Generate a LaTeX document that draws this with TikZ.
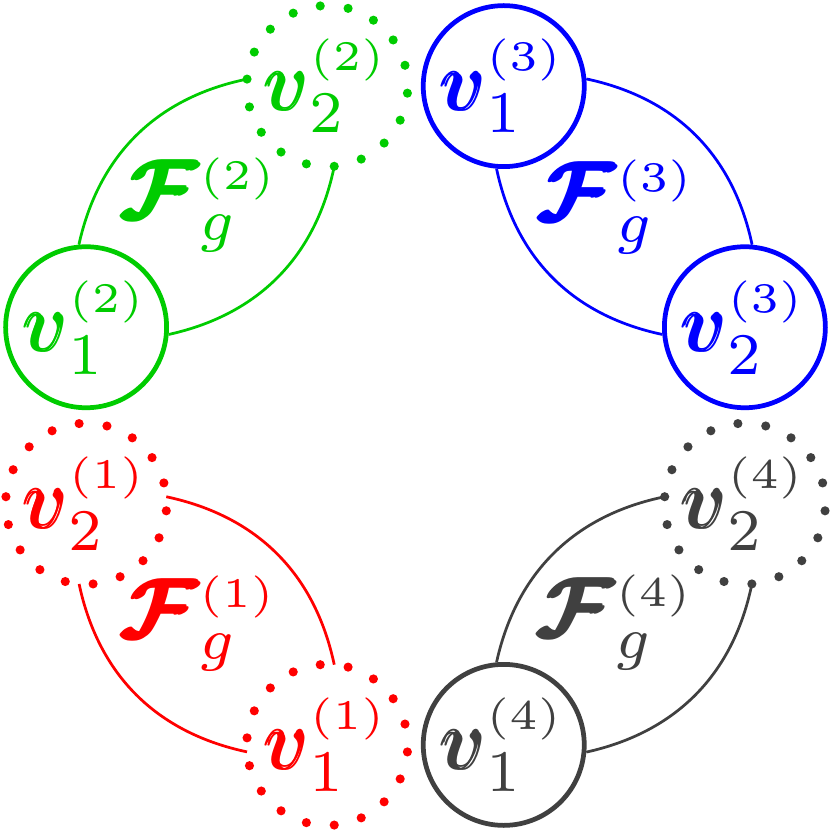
\documentclass[tikz,border=0pt]{standalone}
\usepackage{amsmath,amssymb}
\usepackage{graphicx}
\definecolor{vgreen}{RGB}{0,204,0}
\definecolor{vgray}{RGB}{64,64,64}

\begin{document}
\begin{tikzpicture}[
    solidnode/.style={circle, draw=#1, text=#1, line width=1.35pt, minimum size=1.61cm, inner sep=0pt},
    dotnode/.style={circle, draw=#1, text=#1, line width=2.6pt, dash pattern=on 0pt off 7.995pt, dash phase=2pt, line cap=round, minimum size=1.61cm, inner sep=0pt, outer sep=0pt},
    link/.style={draw=#1, line width=0.78pt}]
    \useasboundingbox (-4.155,-4.155) rectangle (4.155,4.155);

    \node[dotnode=red] (v11) at (-105:3.41) {\scalebox{2.4}{$\pmb{v}_1^{\scriptscriptstyle(1)}$}};
    \node[dotnode=red] (v21) at (-165:3.41) {\scalebox{2.4}{$\pmb{v}_2^{\scriptscriptstyle(1)}$}};
    \node[solidnode=vgreen] (v12) at (165:3.41) {\scalebox{2.4}{$\pmb{v}_1^{\scriptscriptstyle(2)}$}};
    \node[dotnode=vgreen] (v22) at (105:3.41) {\scalebox{2.4}{$\pmb{v}_2^{\scriptscriptstyle(2)}$}};
    \node[solidnode=blue] (v13) at (75:3.41) {\scalebox{2.4}{$\pmb{v}_1^{\scriptscriptstyle(3)}$}};
    \node[solidnode=blue] (v23) at (15:3.41) {\scalebox{2.4}{$\pmb{v}_2^{\scriptscriptstyle(3)}$}};
    \node[solidnode=vgray] (v14) at (-75:3.41) {\scalebox{2.4}{$\pmb{v}_1^{\scriptscriptstyle(4)}$}};
    \node[dotnode=vgray] (v24) at (-15:3.41) {\scalebox{2.4}{$\pmb{v}_2^{\scriptscriptstyle(4)}$}};

    \draw[link=red] (v11.185) to[bend left=33] (v21.265);
    \draw[link=red] (v11.85) to[bend right=33] (v21.5);
    \draw[link=vgreen] (v12.95) to[bend left=33] (v22.175);
    \draw[link=vgreen] (v12.-5) to[bend right=33] (v22.-85);
    \draw[link=blue] (v13.5) to[bend left=33] (v23.85);
    \draw[link=blue] (v13.-95) to[bend right=33] (v23.185);
    \draw[link=vgray] (v14.355) to[bend right=33] (v24.275);
    \draw[link=vgray] (v14.95) to[bend left=33] (v24.175);

    \node[text=red] (F1) at (-2.155,-2.08) {\scalebox{2.4}{$\pmb{\boldsymbol{\mathcal{F}}}_g^{\scriptscriptstyle(1)}$}};
    \node[text=vgreen] (F2) at (-2.15,2.105) {\scalebox{2.4}{$\pmb{\boldsymbol{\mathcal{F}}}_g^{\scriptscriptstyle(2)}$}};
    \node[text=blue] (F3) at (2.02,2.085) {\scalebox{2.4}{$\pmb{\boldsymbol{\mathcal{F}}}_g^{\scriptscriptstyle(3)}$}};
    \node[text=vgray] (F4) at (2.01,-2.07) {\scalebox{2.4}{$\pmb{\boldsymbol{\mathcal{F}}}_g^{\scriptscriptstyle(4)}$}};
\end{tikzpicture}
\end{document}
